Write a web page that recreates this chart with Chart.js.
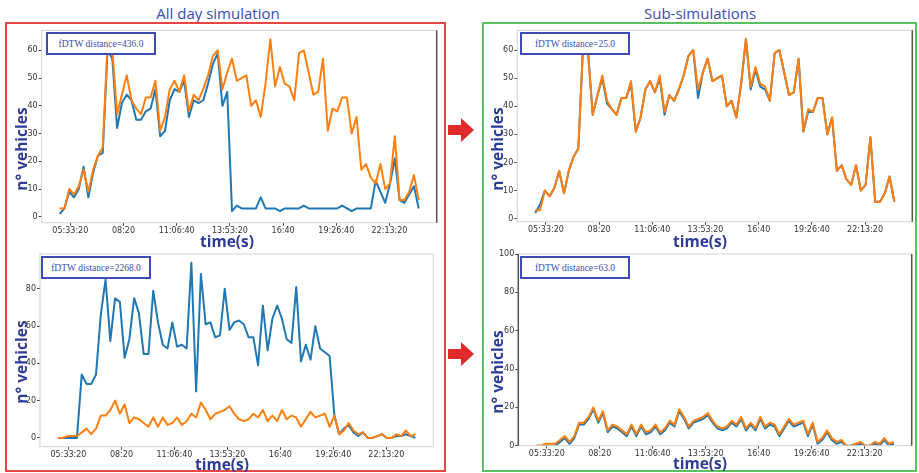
<!DOCTYPE html>
<html>
<head>
<meta charset="utf-8">
<script src="https://cdn.jsdelivr.net/npm/chart.js@4"></script>
<style>
    body { margin: 0; width: 919px; height: 473px; background: #fff; position: relative; overflow: hidden; font-family: 'Open Sans', sans-serif; }
    canvas, .abs { position: absolute; }
    .title { font-size: 15px; color: #3a4cb3; transform: translate(-50%, -50%); white-space: nowrap; }
    .ylab, .xlab { font-weight: 700; font-size: 15.5px; color: #2e3b96; white-space: nowrap; }
    .ylab { transform: translate(-50%, -50%) rotate(-90deg); }
    .xlab { transform: translate(-50%, -50%); }
    .box { background: #fff; border: 2px solid #3d4bb2; box-sizing: border-box; color: #3d4bb2;
           font: 9.5px 'Liberation Serif', serif; display: flex; align-items: center; justify-content: center; }
    .frame { box-sizing: border-box; }
</style>
</head>
<body>
<div class="abs title" style="left:218px;top:13px">All day simulation</div>
<div class="abs title" style="left:700px;top:13px">Sub-simulations</div>

<canvas id="tl" width="436" height="230" style="left:8px;top:24px"></canvas>
<canvas id="tr" width="430" height="230" style="left:486px;top:24px"></canvas>
<canvas id="bl" width="436" height="222" style="left:8px;top:248px"></canvas>
<canvas id="br" width="430" height="222" style="left:486px;top:248px"></canvas>

<div class="abs frame" style="left:5px;top:22px;width:441px;height:450px;border:2px solid #e54545"></div>
<div class="abs frame" style="left:482px;top:22px;width:435px;height:450px;border:2px solid #58c160"></div>

<svg class="abs" style="left:446px;top:116px" width="30" height="28"><polygon points="2,9 15,9 15,2 28,14 15,26 15,19 2,19" fill="#e02a2a"/></svg>
<svg class="abs" style="left:446px;top:340px" width="30" height="28"><polygon points="2,9 15,9 15,2 28,14 15,26 15,19 2,19" fill="#e02a2a"/></svg>

<div class="abs ylab" style="left:21px;top:149px">n° vehicles</div>
<div class="abs ylab" style="left:497px;top:149px">n° vehicles</div>
<div class="abs ylab" style="left:21px;top:362px">n° vehicles</div>
<div class="abs ylab" style="left:497px;top:372px">n° vehicles</div>
<div class="abs xlab" style="left:227px;top:241px">time(s)</div>
<div class="abs xlab" style="left:700px;top:241px">time(s)</div>
<div class="abs xlab" style="left:222px;top:464px">time(s)</div>
<div class="abs xlab" style="left:700px;top:463px">time(s)</div>

<div class="abs box" style="left:46px;top:32px;width:110px;height:23px">fDTW distance=436.0</div>
<div class="abs box" style="left:520px;top:32px;width:110px;height:23px">fDTW distance=25.0</div>
<div class="abs box" style="left:41px;top:256px;width:110px;height:23px">fDTW distance=2268.0</div>
<div class="abs box" style="left:520px;top:256px;width:110px;height:23px">fDTW distance=63.0</div>

<script>
// time axis (seconds), one sample every 15 min
const T0 = 18000, DT = 900;
const xTickValues = [20000, 30000, 40000, 50000, 60000, 70000, 80000];
const xTickLabels = ['05:33:20', '08:20', '11:06:40', '13:53:20', '16:40', '19:26:40', '22:13:20'];

// day 1 (top row)
const realTop = [3, 3, 10, 8, 11, 17, 9, 17, 22, 25,
    62, 60, 37, 44, 51, 42, 39, 37, 43, 43,
    49, 31, 36, 46, 49, 45, 51, 38, 44, 42,
    46, 51, 58, 60, 46, 52, 57, 49, 50, 51,
    40, 42, 36, 48, 64, 47, 54, 48, 47, 42,
    59, 60, 52, 44, 45, 57, 31, 39, 38, 43,
    43, 30, 36, 17, 19, 14, 12, 19, 10, 12,
    29, 6, 6, 9, 15, 6];
const allDayTop = [1, 3, 9, 7, 10, 18, 7, 16, 22, 23,
    60, 57, 32, 41, 44, 42, 35, 35, 38, 39,
    46, 29, 31, 42, 46, 45, 49, 36, 42, 41,
    42, 48, 55, 59, 40, 45, 2, 4, 3, 3,
    3, 3, 7, 3, 3, 3, 2, 3, 3, 3,
    3, 4, 3, 3, 3, 3, 3, 3, 3, 4,
    3, 2, 3, 3, 3, 3, 13, 9, 5, 12,
    21, 6, 5, 8, 11, 3];
const subSimTop = [2, 5, 10, 8, 11, 17, 9, 17, 22, 25,
    62, 60, 37, 44, 50, 41, 39, 37, 43, 43,
    48, 31, 36, 46, 49, 45, 50, 37, 44, 42,
    46, 51, 58, 60, 43, 52, 57, 49, 50, 51,
    40, 42, 36, 48, 64, 46, 53, 47, 46, 42,
    59, 60, 52, 44, 45, 57, 31, 38, 38, 43,
    43, 30, 36, 17, 19, 14, 12, 19, 10, 12,
    29, 6, 6, 9, 15, 6];

// day 2 (bottom row)
const realBottom = [0, 0, 1, 1, 1, 3, 5, 2, 5, 12,
    12, 15, 20, 13, 18, 8, 11, 10, 8, 6,
    11, 6, 11, 7, 8, 11, 7, 9, 13, 11,
    19, 15, 10, 13, 14, 15, 17, 13, 10, 9,
    10, 13, 11, 15, 9, 12, 9, 15, 10, 12,
    11, 6, 10, 14, 11, 12, 13, 6, 12, 2,
    4, 8, 4, 2, 3, 0, 0, 1, 2, 0,
    0, 2, 1, 4, 1, 2];
const allDayBottom = [0, 0, 0, 0, 0, 34, 29, 29, 34, 66,
    85, 52, 75, 73, 43, 53, 75, 67, 45, 45,
    79, 62, 50, 48, 62, 49, 50, 48, 94, 25,
    88, 61, 62, 54, 55, 80, 58, 62, 63, 61,
    54, 54, 39, 71, 47, 64, 71, 64, 53, 51,
    81, 41, 50, 42, 60, 48, 46, 44, 12, 2,
    5, 7, 3, 1, 3, 0, 0, 1, 2, 0,
    0, 1, 1, 2, 1, 0];
const subSimBottom = [0, 0, 0, 0, 0, 2, 4, 1, 4, 11,
    11, 14, 19, 12, 17, 7, 10, 9, 7, 5,
    10, 5, 10, 6, 7, 10, 6, 8, 12, 10,
    18, 14, 9, 12, 13, 14, 16, 12, 9, 8,
    9, 12, 10, 14, 8, 11, 8, 14, 9, 11,
    10, 5, 9, 13, 10, 11, 12, 5, 11, 1,
    3, 7, 3, 1, 2, 0, 0, 0, 1, 0,
    0, 1, 0, 3, 0, 1];

const yTicksTop = [0, 10, 20, 30, 40, 50, 60];
const yTicksBL = [0, 20, 40, 60, 80];
const yTicksBR = [0, 20, 40, 60, 80, 100];

const BLUE = '#1f77b4';
const ORANGE = '#ff7f0e';

function toPoints(values) {
    return values.map((v, i) => ({ x: T0 + i * DT, y: v }));
}

// light box around the axes, with darker side spines where the picture has them
const spinePlugin = {
    id: 'spines',
    afterDatasetsDraw(chart, args, opts) {
        const { ctx, chartArea: a } = chart;
        ctx.save();
        ctx.lineWidth = 1;
        ctx.strokeStyle = '#d2d2d2';
        ctx.strokeRect(a.left, a.top, a.right - a.left, a.bottom - a.top);
        ctx.strokeStyle = '#555';
        ctx.lineWidth = 1.5;
        ctx.beginPath();
        if (opts.left) { ctx.moveTo(a.left, a.top); ctx.lineTo(a.left, a.bottom); }
        if (opts.right) { ctx.moveTo(a.right, a.top); ctx.lineTo(a.right, a.bottom); }
        ctx.stroke();
        ctx.restore();
    }
};

function makePanel(id, cv, area, sim, real, yMin, yMax, yTicks, spines) {
    const tickFont = { family: 'DejaVu Sans', size: 8 };
    return new Chart(document.getElementById(id), {
        type: 'line',
        data: {
            datasets: [
                { data: toPoints(real), borderColor: ORANGE },
                { data: toPoints(sim), borderColor: BLUE }
            ].map(d => Object.assign(d, {
                borderWidth: 2, pointRadius: 0, tension: 0, fill: false, borderJoinStyle: 'round'
            }))
        },
        options: {
            responsive: false,
            animation: false,
            layout: { padding: { top: area.t - cv.y, right: cv.x + cv.w - area.r, left: 0, bottom: 0 } },
            plugins: { legend: { display: false }, tooltip: { enabled: false }, spines },
            scales: {
                x: {
                    type: 'linear', min: 14625, max: 88875,
                    afterBuildTicks: s => { s.ticks = xTickValues.map(v => ({ value: v })); },
                    afterFit: s => { s.height = cv.y + cv.h - area.b; },
                    grid: { drawOnChartArea: false, tickLength: 3, color: '#444' },
                    border: { display: false },
                    ticks: { callback: (v, i) => xTickLabels[i], autoSkip: false, maxRotation: 0,
                             padding: 0, color: '#333', font: tickFont }
                },
                y: {
                    min: yMin, max: yMax,
                    afterBuildTicks: s => { s.ticks = yTicks.map(v => ({ value: v })); },
                    afterFit: s => { s.width = area.l - cv.x; },
                    grid: { drawOnChartArea: false, tickLength: 3, color: '#444' },
                    border: { display: false },
                    ticks: { padding: 1, color: '#333', font: tickFont }
                }
            }
        },
        plugins: [spinePlugin]
    });
}

makePanel('tl', { x: 8, y: 24, w: 436, h: 230 }, { l: 41.7, t: 30.5, r: 436.7, b: 222.7 },
    allDayTop, realTop, -2.15, 67.15, yTicksTop, { right: true });
makePanel('tr', { x: 486, y: 24, w: 430, h: 230 }, { l: 517.3, t: 30.3, r: 912.3, b: 221.7 },
    subSimTop, realTop, -1.1, 67.1, yTicksTop, { right: true });
makePanel('bl', { x: 8, y: 248, w: 436, h: 222 }, { l: 40, t: 254, r: 433.3, b: 446.7 },
    allDayBottom, realBottom, -4.7, 98.7, yTicksBL, {});
makePanel('br', { x: 486, y: 248, w: 430, h: 222 }, { l: 518.3, t: 254, r: 911.7, b: 445.7 },
    subSimBottom, realBottom, 0, 100, yTicksBR, { left: true, right: true });
</script>
</body>
</html>
